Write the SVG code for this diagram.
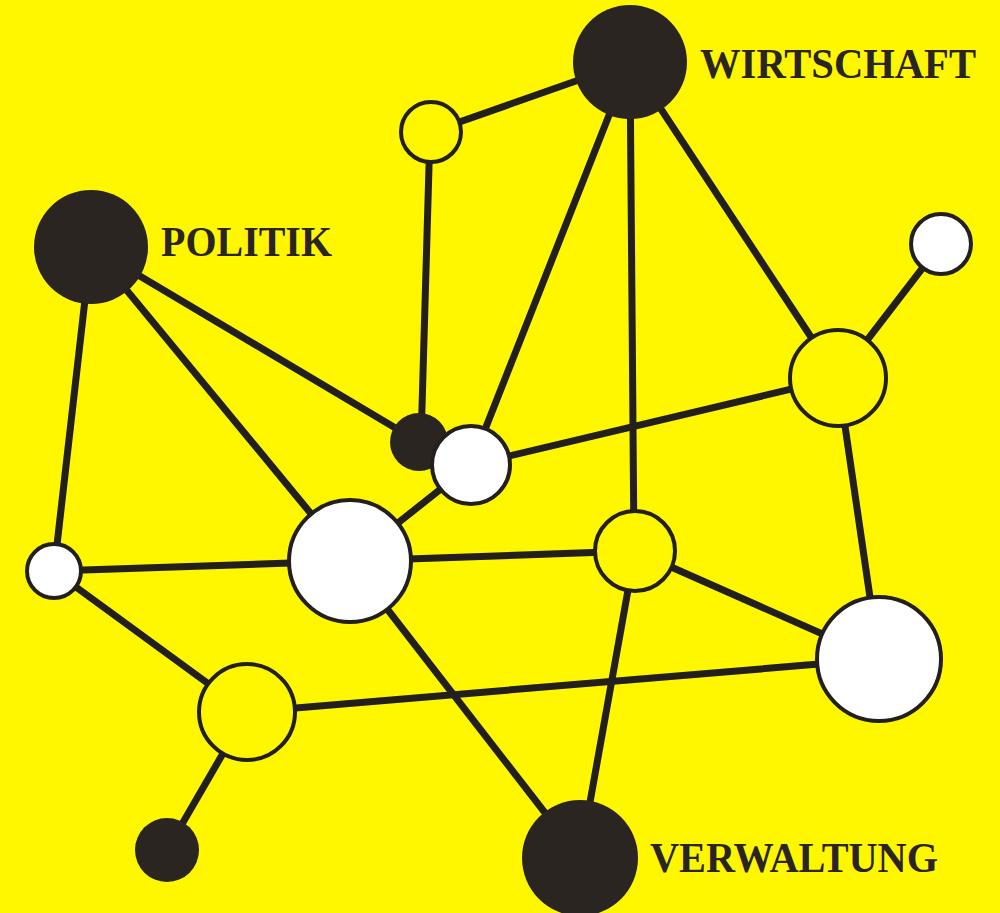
<svg xmlns="http://www.w3.org/2000/svg" width="1000" height="913" viewBox="0 0 1000 913">
<style>
.bg{fill:#fff700}
.e{stroke:#231f1c;stroke-width:7;stroke-linecap:round}
.y{fill:#fff700;stroke:#231f1c;stroke-width:4}
.w{fill:#ffffff;stroke:#231f1c;stroke-width:4}
.d{fill:#2b2522}
.t{font-family:"Liberation Serif","DejaVu Serif",serif;font-weight:bold;font-size:42px;fill:#2b2522}
</style>
<rect class="bg" x="0" y="0" width="1000" height="913"/>
<g id="connectors">
<line class="e" x1="431" y1="132" x2="630" y2="62"/>
<line class="e" x1="430" y1="132" x2="421" y2="442"/>
<line class="e" x1="91" y1="247" x2="419" y2="442"/>
<line class="e" x1="91" y1="247" x2="54" y2="571"/>
<line class="e" x1="91" y1="247" x2="350" y2="561"/>
<line class="e" x1="630" y1="62" x2="471" y2="465"/>
<line class="e" x1="630" y1="62" x2="634" y2="551"/>
<line class="e" x1="630" y1="62" x2="838" y2="378"/>
<line class="e" x1="941" y1="244" x2="838" y2="378"/>
<line class="e" x1="838" y1="378" x2="471" y2="465"/>
<line class="e" x1="838" y1="378" x2="879" y2="659"/>
<line class="e" x1="350" y1="561" x2="471" y2="465"/>
<line class="e" x1="54" y1="571" x2="350" y2="561"/>
<line class="e" x1="350" y1="561" x2="635" y2="551"/>
<line class="e" x1="635" y1="551" x2="879" y2="659"/>
<line class="e" x1="635" y1="551" x2="580" y2="858"/>
<line class="e" x1="350" y1="561" x2="580" y2="858"/>
<line class="e" x1="54" y1="571" x2="247" y2="712"/>
<line class="e" x1="247" y1="712" x2="879" y2="659"/>
<line class="e" x1="247" y1="712" x2="167" y2="850"/>
</g>
<g id="wirtschaft"><circle class="d" cx="630" cy="62" r="57"/><text class="t" x="700" y="78" textLength="276" lengthAdjust="spacingAndGlyphs">WIRTSCHAFT</text></g>
<g id="politik"><circle class="d" cx="91" cy="247" r="57"/><text class="t" x="161" y="256" textLength="171" lengthAdjust="spacingAndGlyphs">POLITIK</text></g>
<g id="verwaltung"><circle class="d" cx="580" cy="858" r="58"/><text class="t" x="650" y="872" textLength="288" lengthAdjust="spacingAndGlyphs">VERWALTUNG</text></g>
<g id="n-top"><circle class="y" cx="431" cy="132" r="30"/></g>
<g id="n-topright"><circle class="w" cx="941" cy="244" r="30"/></g>
<g id="n-right"><circle class="y" cx="838" cy="378" r="48"/></g>
<g id="n-darksmall"><circle class="d" cx="419" cy="442" r="29"/></g>
<g id="n-whitemid"><circle class="w" cx="471" cy="465" r="39"/></g>
<g id="n-left"><circle class="w" cx="54" cy="571" r="27"/></g>
<g id="n-center"><circle class="w" cx="350" cy="561" r="61"/></g>
<g id="n-mid"><circle class="y" cx="635" cy="551" r="40"/></g>
<g id="n-bigright"><circle class="w" cx="879" cy="659" r="62"/></g>
<g id="n-lowleft"><circle class="y" cx="247" cy="712" r="48"/></g>
<g id="n-darkbottom"><circle class="d" cx="167" cy="850" r="32"/></g>
</svg>
